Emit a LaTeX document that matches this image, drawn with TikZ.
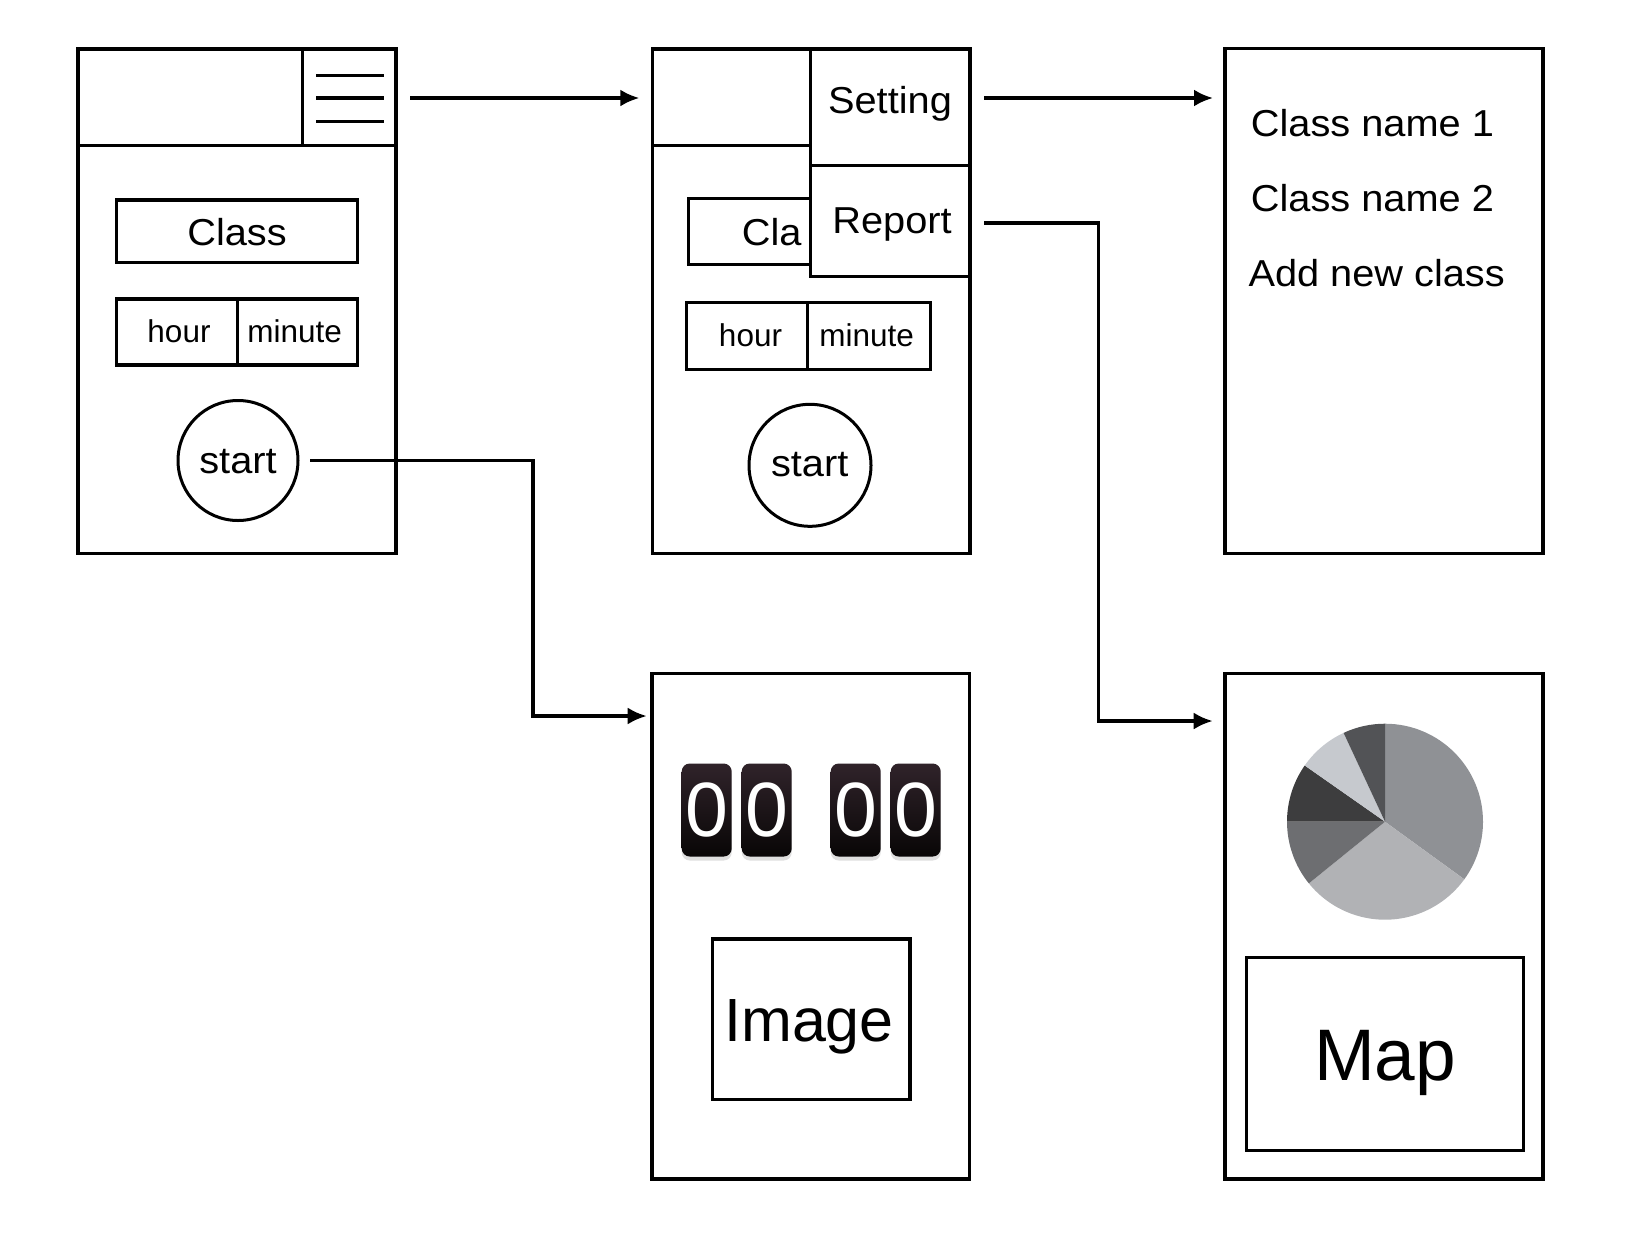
\documentclass[tikz,border=0pt]{standalone}
\usepackage{fontspec}
\setmainfont{Liberation Sans}
\newfontfamily\wideF{Liberation Sans}[FakeStretch=1.06]
\usetikzlibrary{arrows.meta,shadows,calc}
\newcommand\fsMain{\wideF\fontsize{37.5}{40}\selectfont}
\newcommand\fsSmall{\fontsize{31.5}{34}\selectfont}
\newcommand\fsImg{\fontsize{61}{64}\selectfont}
\newcommand\fsMap{\fontsize{73}{76}\selectfont}
\newcommand\fsDigit{\fontsize{77}{80}\selectfont}
\definecolor{pA}{HTML}{8F9195}
\definecolor{pB}{HTML}{B1B2B5}
\definecolor{pC}{HTML}{6D6E71}
\definecolor{pD}{HTML}{3D3D3E}
\definecolor{pE}{HTML}{C6C9CE}
\definecolor{pF}{HTML}{525356}
\definecolor{tileTop}{HTML}{30232A}
\definecolor{tileBot}{HTML}{080606}
\begin{document}
\begin{tikzpicture}[x=1pt,y=-1pt,
  frame/.style={draw, line width=3.3pt, inner sep=0pt, outer sep=0pt, rectangle},
  wfill/.style={frame, fill=white},
  ring/.style={draw, line width=3pt, circle, inner sep=0pt, outer sep=0pt},
  lbl/.style={inner sep=0pt, anchor=base, font=\fsMain},
  lbls/.style={inner sep=0pt, anchor=base, font=\fsSmall},
  conn/.style={line width=3.3pt},
  arr/.style={conn, -{Latex[length=19pt,width=17pt]}},
  tile/.style={rectangle, rounded corners=8pt, inner sep=0pt, minimum width=50pt, minimum height=93pt,
    top color=tileTop, bottom color=tileBot, text=white, font=\fsDigit,
    drop shadow={opacity=0.25, shadow xshift=0pt, shadow yshift=-4pt}}
]
\useasboundingbox (0,0) rectangle (1648,1240);

% ---------- Screen 1 ----------
\node[frame, minimum width=318pt, minimum height=504.5pt] (s1) at (237,301.25) {};
\draw[conn] (78,145.7) -- (396,145.7);
\draw[conn] (302.7,49) -- (302.7,145.7);
\draw[conn] (316,75.7) -- (384,75.7);
\draw[conn] (316,98) -- (384,98);
\draw[conn] (316,121.3) -- (384,121.3);
\coordinate (menu1) at (343,98);
\node[frame, minimum width=240.6pt, minimum height=62.7pt] (class1) at (237,231.35) {};
\node[lbl] (class1t) at (237,245) {Class};
\node[frame, minimum width=240.6pt, minimum height=66pt] (hm1) at (237,332) {};
\draw[conn] (237.3,299) -- (237.3,365);
\node[lbls] (hour1) at (179,342.7) {hour};
\node[lbls] (min1) at (294.7,342.7) {minute};
\node[ring, minimum size=120pt] (st1) at (238,460.5) {};
\node[lbl] (st1t) at (238,473.5) {start};

% ---------- Screen 2 ----------
\node[frame, minimum width=317.7pt, minimum height=504.5pt] (s2) at (811.15,301.25) {};
\draw[conn] (652.3,145.7) -- (810.7,145.7);
\node[frame, minimum width=242.7pt, minimum height=66pt] (class2) at (809.65,231.3) {};
\node[lbl, anchor=base west] (class2t) at (741.7,245) {Cla};
\node[frame, minimum width=244pt, minimum height=66.6pt] (hm2) at (808.7,336) {};
\draw[conn] (807.3,302.7) -- (807.3,369.3);
\node[lbls] (hour2) at (750.5,346.7) {hour};
\node[lbls] (min2) at (866.7,346.7) {minute};
\node[ring, minimum size=122pt] (st2) at (810,465.3) {};
\node[lbl] (st2t) at (809.7,476) {start};
\node[wfill, minimum width=159.3pt, minimum height=116.7pt] (set) at (890.35,107.35) {};
\node[lbl] (sett) at (890,113.3) {Setting};
\node[wfill, minimum width=159.3pt, minimum height=111pt] (rep) at (890.35,221.2) {};
\node[lbl] (rept) at (892,233.3) {Report};

% ---------- Screen 3 ----------
\node[frame, minimum width=318pt, minimum height=505pt] (s3) at (1384,301) {};
\node[lbl, anchor=base west] (cn1) at (1250.7,136.7) {Class name 1};
\node[lbl, anchor=base west] (cn2) at (1250.7,211.7) {Class name 2};
\node[lbl, anchor=base west] (cn3) at (1248.3,286) {Add new class};

% ---------- Screen 4 ----------
\node[frame, minimum width=317.5pt, minimum height=505.3pt] (s4) at (810.75,926.35) {};
\node[tile] (d1) at (706.7,810) {0};
\node[tile] (d2) at (766.7,810) {0};
\node[tile] (d3) at (855.7,810) {0};
\node[tile] (d4) at (915.7,810) {0};
\node[frame, minimum width=197.7pt, minimum height=160.3pt] (img) at (811.15,1019.15) {};
\node[inner sep=0pt, anchor=base, font=\fsImg] (imgt) at (809,1041.7) {Image};

% ---------- Screen 5 ----------
\node[frame, minimum width=318pt, minimum height=505.3pt] (s5) at (1384,926.35) {};
\begin{scope}[shift={(1385,821.7)}]
  \fill[pA] (0,0) -- (90:98pt) arc[start angle=90, end angle=-36, radius=98pt] -- cycle;
  \fill[pB] (0,0) -- (-36:98pt) arc[start angle=-36, end angle=-141, radius=98pt] -- cycle;
  \fill[pC] (0,0) -- (-141:98pt) arc[start angle=-141, end angle=-180, radius=98pt] -- cycle;
  \fill[pD] (0,0) -- (180:98pt) arc[start angle=180, end angle=145, radius=98pt] -- cycle;
  \fill[pE] (0,0) -- (145:98pt) arc[start angle=145, end angle=115, radius=98pt] -- cycle;
  \fill[pF] (0,0) -- (115:98pt) arc[start angle=115, end angle=90, radius=98pt] -- cycle;
\end{scope}
\node[frame, minimum width=276.6pt, minimum height=193.4pt] (map) at (1385,1054) {};
\node[inner sep=0pt, anchor=base, font=\fsMap] (mapt) at (1385,1080) {Map};

% ---------- Connectors ----------
\coordinate (a1s) at ($(s1.east |- menu1)+(14,0)$);
\coordinate (a1e) at ($(s2.west |- menu1)+(-13,0)$);
\draw[arr] (a1s) -- (a1e);

\coordinate (a2s) at ($(set.east |- menu1)+(14,0)$);
\coordinate (a2e) at ($(s3.west |- menu1)+(-12,0)$);
\draw[arr] (a2s) -- (a2e);

\coordinate (a3s) at (984,223);
\coordinate (a3e) at (1212.7,721);
\draw[arr] (a3s) -| (1098.3,470) |- (a3e);

\coordinate (a4s) at ($(st1.east)+(12,0)$);
\coordinate (a4e) at (646.7,716);
\draw[arr] (a4s) -| (533,588) |- (a4e);
\end{tikzpicture}
\end{document}
